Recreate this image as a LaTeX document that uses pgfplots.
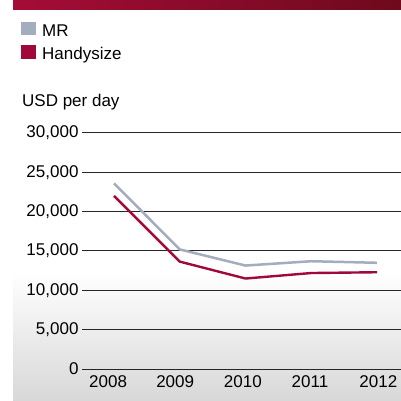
\documentclass[border=0pt]{standalone}
\usepackage{pgfplots}
\pgfplotsset{compat=1.18}
\usepackage{fontspec}
\setmainfont{Liberation Sans}
\definecolor{mrgray}{HTML}{A3ADBD}
\definecolor{handy}{HTML}{A00A3A}
\definecolor{bannerL}{HTML}{A50C38}
\definecolor{bannerR}{HTML}{6E0A1C}
\definecolor{gridc}{HTML}{262626}
\definecolor{bgbot}{HTML}{D8D8D8}

\begin{document}
\begin{tikzpicture}[x=1bp,y=1bp,every node/.style={font=\fontsize{17bp}{20bp}\selectfont}]
\useasboundingbox (0,0) rectangle (401,401);
\fill[white] (0,0) rectangle (401,401);
\shade[top color=white, bottom color=bgbot] (13,0) rectangle (401,130);
\shade[left color=bannerL, right color=bannerR] (13,391) rectangle (401,401);
\node[anchor=base west, inner sep=0pt] at (22,294.3) {USD per day};

\begin{axis}[
    at={(82bp,32bp)}, anchor=south west,
    scale only axis, width=319bp, height=236bp,
    xmin=2007.513, xmax=2012.365,
    ymin=0, ymax=30000,
    axis line style={draw=none},
    tick style={draw=none},
    ymajorgrids,
    grid style={gridc, line width=1bp},
    ytick={0,5000,10000,15000,20000,25000,30000},
    scaled ticks=false,
    /pgf/number format/.cd, 1000 sep={,}, assume math mode=true, /pgfplots/.cd,
    xtick={2007.91,2008.93,2009.96,2010.98,2012.02},
    xticklabels={2008,2009,2010,2011,2012},
    xticklabel style={yshift=-3bp},
    tick label style={font=\fontsize{17bp}{20bp}\selectfont},
    legend cell align=left,
    legend style={at={(-0.1912,1.4715)}, anchor=north west, draw=none, fill=none,
        inner sep=0pt, row sep=5bp, column sep=6.5bp,
        font=\fontsize{17bp}{20bp}\selectfont,
        nodes={inner sep=0pt, text height=12.5bp, text depth=3.5bp}},
    legend image code/.code={\fill[#1] (0bp,-2bp) rectangle (12bp,9bp);},
]
\addplot[mrgray, line width=2.5bp] coordinates {
    (2008,23600) (2009,15200) (2010,13150) (2011,13700) (2012,13500)
};
\addlegendentry{MR}
\addplot[handy, line width=2.4bp] coordinates {
    (2008,22000) (2009,13650) (2010,11500) (2011,12200) (2012,12300)
};
\addlegendentry{Handysize}
\end{axis}
\end{tikzpicture}
\end{document}
